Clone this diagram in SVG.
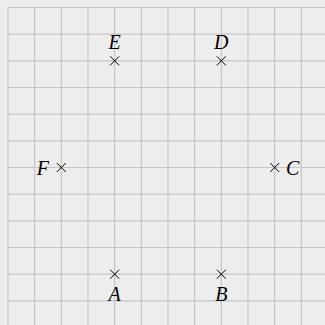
<svg xmlns="http://www.w3.org/2000/svg" width="325" height="325" viewBox="0 0 325 325">
<style>
.grid{stroke:#c6c6c6;stroke-width:1.2;fill:none}
.cross{stroke:#000;stroke-width:1;fill:none}
.lbl{font-family:"Liberation Serif",serif;font-style:italic;font-size:20px;fill:#000}
</style>
<rect width="325" height="325" fill="#ededed"/>
<g id="grid" class="grid">
<path d="M8,7.5V325M34.67,7.5V325M61.33,7.5V325M88,7.5V325M114.67,7.5V325M141.33,7.5V325M168,7.5V325M194.67,7.5V325M221.33,7.5V325M248,7.5V325M274.67,7.5V325M301.33,7.5V325"/>
<path d="M8,7.5H325M8,34.17H325M8,60.83H325M8,87.5H325M8,114.17H325M8,140.83H325M8,167.5H325M8,194.17H325M8,220.83H325M8,247.5H325M8,274.17H325M8,300.83H325"/>
</g>
<g id="connectors"></g>
<g id="E"><path class="cross" d="M110.2,56.3l9,9m0,-9l-9,9"/><text class="lbl" x="114.7" y="48.5" text-anchor="middle">E</text></g>
<g id="D"><path class="cross" d="M216.8,56.3l9,9m0,-9l-9,9"/><text class="lbl" x="221.3" y="48.5" text-anchor="middle">D</text></g>
<g id="F"><path class="cross" d="M56.8,163l9,9m0,-9l-9,9"/><text class="lbl" x="49" y="174.5" text-anchor="end">F</text></g>
<g id="C"><path class="cross" d="M270.2,163l9,9m0,-9l-9,9"/><text class="lbl" x="286" y="174.5">C</text></g>
<g id="A"><path class="cross" d="M110.2,269.7l9,9m0,-9l-9,9"/><text class="lbl" x="114.7" y="301" text-anchor="middle">A</text></g>
<g id="B"><path class="cross" d="M216.8,269.7l9,9m0,-9l-9,9"/><text class="lbl" x="221.3" y="301" text-anchor="middle">B</text></g>
</svg>
